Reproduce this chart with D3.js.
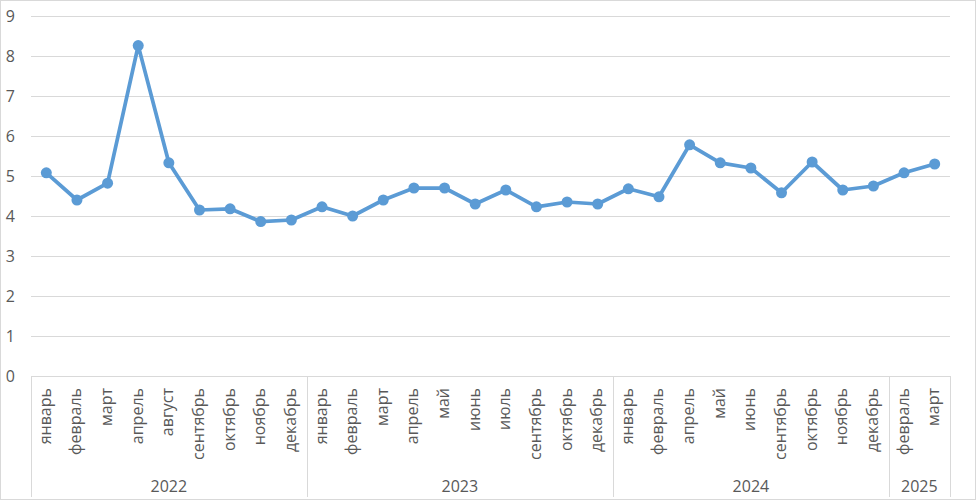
<!DOCTYPE html>
<html>
<head>
<meta charset="utf-8">
<title>Monthly chart 2022-2025</title>
<script src="https://cdnjs.cloudflare.com/ajax/libs/d3/7.8.5/d3.min.js"></script>
<style>
  body { margin: 0; background: #fff; }
  svg text { font-family: "Open Sans", "Noto Sans", sans-serif; fill: #595959; }
</style>
</head>
<body>
<svg id="svg" width="976" height="500"></svg>
<script>
// months along the x axis, grouped by year
const years = ['2022', '2023', '2024', '2025']
const months2022 = ['январь', 'февраль', 'март', 'апрель', 'август', 'сентябрь', 'октябрь', 'ноябрь', 'декабрь']
const months2023 = ['январь', 'февраль', 'март', 'апрель', 'май', 'июнь', 'июль', 'сентябрь', 'октябрь', 'декабрь']
const months2024 = ['январь', 'февраль', 'апрель', 'май', 'июнь', 'сентябрь', 'октябрь', 'ноябрь', 'декабрь']
const months2025 = ['февраль', 'март']
const values = [5.08, 4.4, 4.82, 8.26, 5.33, 4.15, 4.18, 3.86, 3.9,
  4.23, 4.0, 4.4, 4.7, 4.7, 4.3, 4.65, 4.23, 4.35, 4.3,
  4.68, 4.48, 5.78, 5.33, 5.2, 4.58, 5.35, 4.65, 4.75,
  5.08, 5.3]
const yTicks = [0, 1, 2, 3, 4, 5, 6, 7, 8, 9]

const monthGroups = [months2022, months2023, months2024, months2025]
const data = []
monthGroups.forEach((ms, g) => ms.forEach(m => data.push({year: years[g], month: m, key: data.length, v: values[data.length]})))

const plotLeft = 31, plotRight = 950, plotTop = 16, plotBottom = 376, axisBottom = 497
const svg = d3.select('#svg')

svg.append('rect')
  .attr('x', 0.5).attr('y', 0.5).attr('width', 975).attr('height', 499)
  .attr('fill', '#fff').attr('stroke', '#d9d9d9')

const x = d3.scaleBand().domain(data.map(d => d.key)).range([plotLeft, plotRight])
const y = d3.scaleLinear().domain([0, 9]).range([plotBottom, plotTop])

// gridlines
svg.append('g').selectAll('line')
  .data(yTicks)
  .enter().append('line')
  .attr('x1', plotLeft).attr('x2', plotRight)
  .attr('y1', d => Math.round(y(d)) + 0.5).attr('y2', d => Math.round(y(d)) + 0.5)
  .attr('stroke', '#d9d9d9').attr('stroke-width', 1)

// y labels
svg.append('g').selectAll('text')
  .data(yTicks)
  .enter().append('text')
  .attr('x', 15).attr('y', d => y(d) + 5.5)
  .attr('text-anchor', 'end')
  .style('font-size', '16px')
  .text(d => d)

// category box separators
let bounds = [0]
monthGroups.forEach((ms, g) => bounds.push(bounds[g] + ms.length))
svg.append('g').selectAll('line')
  .data(bounds)
  .enter().append('line')
  .attr('x1', d => Math.round(plotLeft + d * x.step()) + 0.5)
  .attr('x2', d => Math.round(plotLeft + d * x.step()) + 0.5)
  .attr('y1', plotBottom).attr('y2', axisBottom)
  .attr('stroke', '#d9d9d9')

// month labels
svg.append('g').selectAll('text')
  .data(data)
  .enter().append('text')
  .attr('transform', d => `translate(${x(d.key) + x.bandwidth() / 2 + 4.5}, 388) rotate(-90)`)
  .attr('text-anchor', 'end')
  .style('font-size', '16px')
  .text(d => d.month)

// year labels
svg.append('g').selectAll('text')
  .data(years)
  .enter().append('text')
  .attr('x', (d, i) => plotLeft + (bounds[i] + bounds[i + 1]) / 2 * x.step())
  .attr('y', 492)
  .attr('text-anchor', 'middle')
  .style('font-size', '16px')
  .text(d => d)

// series
const line = d3.line()
  .x(d => x(d.key) + x.bandwidth() / 2)
  .y(d => y(d.v))

svg.append('path')
  .datum(data)
  .attr('d', line)
  .attr('fill', 'none')
  .attr('stroke', '#5b9bd5')
  .attr('stroke-width', 3.75)
  .attr('stroke-linejoin', 'round')

svg.append('g').selectAll('circle')
  .data(data)
  .enter().append('circle')
  .attr('cx', d => x(d.key) + x.bandwidth() / 2)
  .attr('cy', d => y(d.v))
  .attr('r', 5.5)
  .attr('fill', '#5b9bd5')
</script>
</body>
</html>
